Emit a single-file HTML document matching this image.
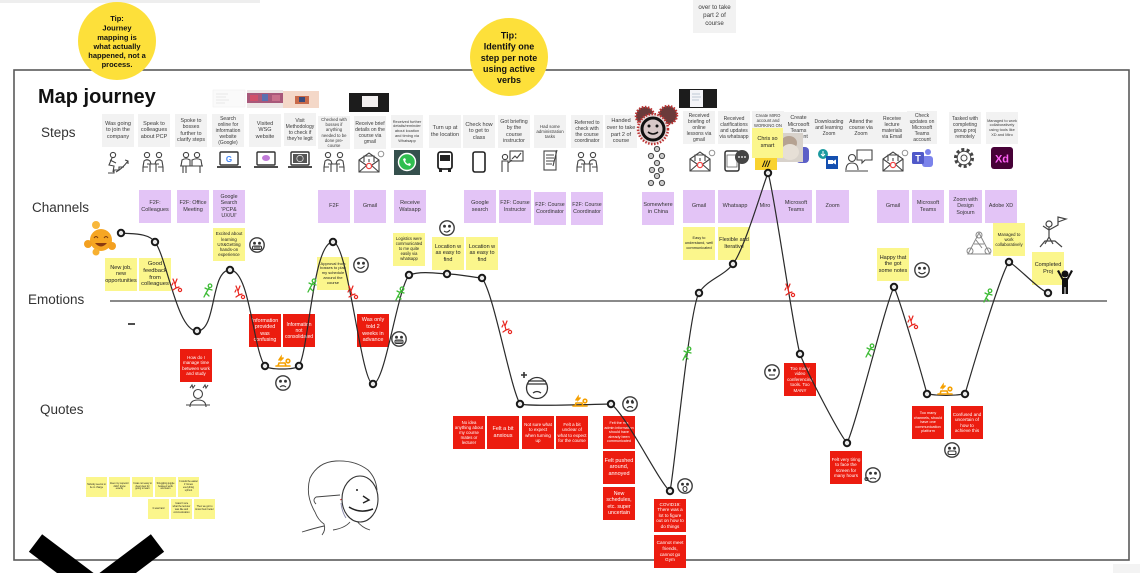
<!DOCTYPE html>
<html><head><meta charset="utf-8">
<style>
html,body{margin:0;padding:0;background:#fff;}
#c{position:relative;width:1140px;height:573px;overflow:hidden;background:#fff;font-family:"Liberation Sans",sans-serif;}
#c svg{position:absolute;left:0;top:0;}
.n{position:absolute;width:32px;height:33px;display:flex;align-items:center;justify-content:center;text-align:center;line-height:1.2;box-sizing:border-box;padding:1px 1px;overflow:hidden;font-size:5.3px;}
.g{background:#f2f2f2;color:#3a3a3a;}
.p{background:#e3c4f6;color:#333;}
.y{background:#fbf68c;color:#222;}
.r{background:#ec1c0f;color:#fff;}
.t{width:21px;height:20px;font-size:2.4px;padding:1px;line-height:1.15;}
</style></head><body><div id="c">

<svg width="1140" height="573" viewBox="0 0 1140 573" style="z-index:0">
  <rect x="0" y="0" width="260" height="3" fill="#eeeeee"/>
  <rect x="14" y="70" width="1115" height="490" fill="none" stroke="#5a5a5a" stroke-width="1.6"/>
  <line x1="110" y1="301" x2="1107" y2="301" stroke="#444" stroke-width="1.2"/>
  <line x1="128" y1="324" x2="135" y2="324" stroke="#222" stroke-width="1.6"/>
  <rect x="1113" y="564" width="27" height="9" fill="#f3f3f3"/>
  <text x="38" y="103" font-family="Liberation Sans" font-weight="bold" font-size="20" fill="#111">Map journey</text>
  <g font-family="Liberation Sans" font-size="13.5" fill="#333">
    <text x="41" y="137">Steps</text>
    <text x="32" y="212">Channels</text>
    <text x="28" y="304">Emotions</text>
    <text x="40" y="414">Quotes</text>
  </g>
  <circle cx="117" cy="41" r="39" fill="#fde03a"/>
  <g font-family="Liberation Sans" font-weight="bold" font-size="7.5" fill="#111" text-anchor="middle">
    <text x="117" y="21">Tip:</text>
    <text x="117" y="30.5">Journey</text>
    <text x="117" y="40">mapping is</text>
    <text x="117" y="49">what actually</text>
    <text x="117" y="58">happened, not a</text>
    <text x="117" y="67">process.</text>
  </g>
  <circle cx="509" cy="57" r="39" fill="#fde03a"/>
  <g font-family="Liberation Sans" font-weight="bold" font-size="9" fill="#111" text-anchor="middle">
    <text x="509" y="38.5">Tip:</text>
    <text x="509" y="49.5">Identify one</text>
    <text x="509" y="61">step per note</text>
    <text x="509" y="72">using active</text>
    <text x="509" y="83">verbs</text>
  </g>
  <rect x="213" y="90" width="32" height="17" fill="#fafafa" stroke="#eee" stroke-width="0.5"/>
  <g stroke="#ddd" stroke-width="0.6"><line x1="216" y1="94" x2="228" y2="94"/><line x1="216" y1="97" x2="226" y2="97"/><line x1="216" y1="100" x2="229" y2="100"/><line x1="216" y1="103" x2="225" y2="103"/></g>
  <rect x="247" y="90" width="36" height="18" fill="#ece6e6"/>
  <rect x="247" y="93" width="36" height="10" fill="#a8587a"/>
  <rect x="250" y="95" width="8" height="6" fill="#d0506a"/><rect x="262" y="94" width="6" height="7" fill="#5a6fb0"/><rect x="272" y="95" width="8" height="6" fill="#c8708c"/>
  <rect x="283" y="91" width="36" height="17" fill="#f4d8c8"/>
  <rect x="295" y="96" width="14" height="8" fill="#c86a4a"/><rect x="299" y="97" width="6" height="5" fill="#3a4a7a"/>
  <rect x="349" y="93" width="40" height="19" fill="#1c1c1c"/>
  <rect x="362" y="96" width="16" height="11" fill="#f2efef"/>
  <rect x="679" y="89" width="38" height="19" fill="#1c1c1c"/>
  <rect x="690" y="90" width="13" height="17" fill="#f4f4f8"/>
  <g stroke="#9ab" stroke-width="0.6"><line x1="692" y1="94" x2="700" y2="94"/><line x1="692" y1="97" x2="701" y2="97"/><line x1="692" y1="100" x2="699" y2="100"/></g>
</svg>

<div class="n g" style="left:693px;top:-9px;width:43px;height:42px;font-size:6.2px;line-height:1.35;">Handed<br>over to take<br>part 2 of<br>course</div>

<div class="n g" style="left:102px;top:114px;font-size:5.5px;">Was going to join the company</div>
<div class="n g" style="left:138px;top:114px;font-size:5.5px;">Speak to colleagues about PCP</div>
<div class="n g" style="left:175px;top:114px;font-size:5.3px;">Spoke to bosses further to clarify steps</div>
<div class="n g" style="left:212px;top:114px;font-size:5px;">Search online for information website (Google)</div>
<div class="n g" style="left:249px;top:114px;font-size:5.5px;">Visited WSG website</div>
<div class="n g" style="left:284px;top:113px;font-size:5px;">Visit Methodology to check if they're legit</div>
<div class="n g" style="left:318px;top:116px;font-size:4.3px;">Checked with bosses if anything needed to be done pre-course</div>
<div class="n g" style="left:354px;top:116px;font-size:5px;">Receive brief details on the course via gmail</div>
<div class="n g" style="left:391px;top:115px;font-size:3.9px;">Received further details/reminder about location and timing via Whatsapp</div>
<div class="n g" style="left:429px;top:115px;font-size:5.5px;">Turn up at the location</div>
<div class="n g" style="left:463px;top:115px;font-size:5.5px;">Check how to get to class</div>
<div class="n g" style="left:498px;top:115px;font-size:5.3px;">Got briefing by the course instructor</div>
<div class="n g" style="left:534px;top:115px;font-size:4.4px;">Had some administration tasks</div>
<div class="n g" style="left:571px;top:115px;font-size:5px;">Referred to check with the course coordinator</div>
<div class="n g" style="left:605px;top:115px;font-size:5.5px;">Handed over to take part 2 of course</div>
<div class="n g" style="left:683px;top:111px;font-size:5px;">Received briefing of online lessons via gmail</div>
<div class="n g" style="left:718px;top:111px;font-size:5px;">Received clarifications and updates via whatsapp</div>
<div class="n g" style="left:752px;top:111px;height:32px;font-size:4.2px;align-items:flex-start;padding-top:2px;">Create MIRO account and WORKING ON</div>
<div class="n g" style="left:784px;top:112px;width:29px;height:32px;font-size:5.4px;">Create Microsoft Teams account</div>
<div class="n g" style="left:813px;top:112px;height:32px;font-size:5px;">Downloading and learning Zoom</div>
<div class="n g" style="left:845px;top:112px;height:32px;font-size:5.2px;">Attend the course via Zoom</div>
<div class="n g" style="left:877px;top:112px;width:30px;height:32px;font-size:5px;">Receive lecture materials via Email</div>
<div class="n g" style="left:907px;top:111px;width:30px;height:33px;font-size:5px;">Check updates on Microsoft Teams account</div>
<div class="n g" style="left:949px;top:112px;height:32px;font-size:5px;">Tasked with completing group proj remotely</div>
<div class="n g" style="left:986px;top:112px;height:32px;font-size:3.9px;">Managed to work collaboratively using tools like XD and Miro</div>

<div class="n p" style="left:139px;top:190px;font-size:5.5px;">F2F: Colleagues</div>
<div class="n p" style="left:177px;top:190px;font-size:5.5px;">F2F: Office Meeting</div>
<div class="n p" style="left:213px;top:190px;font-size:5.3px;">Google Search 'PCP&amp; UX/UI'</div>
<div class="n p" style="left:318px;top:190px;font-size:5.5px;">F2F</div>
<div class="n p" style="left:354px;top:190px;font-size:5.5px;">Gmail</div>
<div class="n p" style="left:394px;top:190px;font-size:5.5px;">Receive Watsapp</div>
<div class="n p" style="left:464px;top:190px;font-size:5.5px;">Google search</div>
<div class="n p" style="left:499px;top:190px;font-size:5.3px;">F2F: Course Instructor</div>
<div class="n p" style="left:534px;top:192px;font-size:5.3px;">F2F: Course Coordinator</div>
<div class="n p" style="left:571px;top:192px;font-size:5.3px;">F2F: Course Coordinator</div>
<div class="n p" style="left:642px;top:192px;font-size:5.5px;">Somewhere in China</div>
<div class="n p" style="left:683px;top:190px;font-size:5.5px;">Gmail</div>
<div class="n p" style="left:718px;top:190px;width:94px;font-size:5.5px;justify-content:flex-start;padding:0;">
  <span style="position:absolute;left:2px;width:30px;text-align:center;">Whatsapp</span>
  <span style="position:absolute;left:34px;width:26px;text-align:center;">Miro</span>
  <span style="position:absolute;left:64px;width:28px;text-align:center;">Microsoft Teams</span>
</div>
<div class="n p" style="left:816px;top:190px;width:33px;font-size:5.5px;">Zoom</div>
<div class="n p" style="left:877px;top:190px;font-size:5.5px;">Gmail</div>
<div class="n p" style="left:912px;top:190px;font-size:5.5px;">Microsoft Teams</div>
<div class="n p" style="left:949px;top:190px;width:33px;font-size:5.3px;">Zoom with Design Sojourn</div>
<div class="n p" style="left:985px;top:190px;font-size:5.3px;">Adobe XD</div>

<div class="n y" style="left:105px;top:258px;font-size:5.5px;">New job, new opportunities</div>
<div class="n y" style="left:139px;top:258px;font-size:5.8px;">Good feedback from colleagues</div>
<div class="n y" style="left:213px;top:228px;font-size:4.4px;">Excited about learning UX&amp;Getting hands-on experience</div>
<div class="n y" style="left:317px;top:257px;font-size:4px;">Approval from bosses to plan my schedule around the course</div>
<div class="n y" style="left:393px;top:233px;font-size:4.1px;">Logistics were communicated to me quite easily via whatsapp</div>
<div class="n y" style="left:432px;top:237px;font-size:5.5px;">Location w as easy to find</div>
<div class="n y" style="left:466px;top:237px;font-size:5.5px;">Location w as easy to find</div>
<div class="n y" style="left:683px;top:227px;font-size:3.9px;">Easy to understand, well communicated</div>
<div class="n y" style="left:718px;top:227px;font-size:5.5px;">Flexible and Iterative</div>
<div class="n y" style="left:877px;top:248px;font-size:5.5px;">Happy that the got some notes</div>
<div class="n y" style="left:993px;top:223px;font-size:4.3px;">Managed to work collaboratively</div>
<div class="n y" style="left:1032px;top:252px;font-size:5.5px;">Completed Proj</div>

<div class="n r" style="left:180px;top:349px;font-size:4.5px;">How do I manage time between work and study</div>
<div class="n r" style="left:249px;top:314px;font-size:5.3px;">Information provided was confusing</div>
<div class="n r" style="left:283px;top:314px;font-size:5px;">Information not consolidated</div>
<div class="n r" style="left:357px;top:314px;font-size:5.5px;">Was only told 2 weeks in advance</div>
<div class="n r" style="left:453px;top:416px;font-size:4.3px;">No idea anything about my course mates or lecturer</div>
<div class="n r" style="left:487px;top:416px;font-size:5.5px;">Felt a bit anxious</div>
<div class="n r" style="left:522px;top:416px;font-size:4.5px;">Not sure what to expect when turning up</div>
<div class="n r" style="left:556px;top:416px;font-size:4.5px;">Felt a bit unclear of what to expect for the course</div>
<div class="n r" style="left:603px;top:416px;font-size:3.7px;">Felt the mis admin information should have already been communicated</div>
<div class="n r" style="left:603px;top:451px;font-size:5.5px;">Felt pushed around, annoyed</div>
<div class="n r" style="left:603px;top:487px;font-size:5.3px;">New schedules, etc. super uncertain</div>
<div class="n r" style="left:654px;top:499px;font-size:4.6px;">COVID19: There was a lot to figure out on how to do things</div>
<div class="n r" style="left:654px;top:535px;font-size:4.7px;">Cannot meet friends, cannot go Gym</div>
<div class="n r" style="left:784px;top:363px;font-size:4.5px;">Too many video conferencing tools. Too MANY</div>
<div class="n r" style="left:830px;top:451px;font-size:4.6px;">Felt very tiring to face the screen for many hours</div>
<div class="n r" style="left:912px;top:406px;font-size:3.8px;">Too many channels, should have one communication platform</div>
<div class="n r" style="left:951px;top:406px;font-size:4.6px;">Confused and uncertain of how to achieve this</div>

<div class="n y t" style="left:86px;top:477px;">Nobody seems to be in charge</div>
<div class="n y t" style="left:109px;top:477px;">Even my superior didn't know exactly</div>
<div class="n y t" style="left:132px;top:477px;">It was not easy to clear view for going to learn</div>
<div class="n y t" style="left:155px;top:477px;">Struggling juggle between work and learn</div>
<div class="n y t" style="left:178px;top:477px;">It would be easier if I knew everything upfront</div>
<div class="n y t" style="left:148px;top:499px;">It was hard</div>
<div class="n y t" style="left:171px;top:499px;">I wasn't sure what the lecturer was like and communication</div>
<div class="n y t" style="left:194px;top:499px;">Then we got to know them better</div>

<svg width="1140" height="573" viewBox="0 0 1140 573" style="z-index:2">
  <defs>
    <g id="pt" fill="none" stroke="#444" stroke-width="1.1">
      <circle cx="6" cy="3" r="2.6"/><circle cx="18" cy="3" r="2.6"/>
      <path d="M2,15 L3,9 Q6,6.5 9,9 L10,12"/><path d="M22,15 L21,9 Q18,6.5 15,9 L14,12"/>
      <path d="M6,12 L18,12 M9,12 L9,20 M15,12 L15,20 M2,15 L2,20 M22,15 L22,20 M2,15 L7,15 M22,15 L17,15"/>
    </g>
    <g id="lp">
      <rect x="3" y="0" width="18" height="13" rx="1" fill="#fff" stroke="#333" stroke-width="1.4"/>
      <path d="M0,15 L24,15" stroke="#333" stroke-width="1.8"/>
    </g>
    <g id="ev" fill="none" stroke="#444" stroke-width="1.1">
      <path d="M2,9 L12,2 L22,9 L22,21 L2,21 Z"/>
      <path d="M2,21 L10,14 M22,21 L14,14 M2,9 L9,14 M22,9 L15,14"/>
      <path d="M7,11 L7,5 L17,5 L17,11"/>
      <circle cx="12" cy="15" r="2.6" stroke="#e44" stroke-width="1.3"/>
      <path d="M12,8 l0,3" stroke="#444"/>
      <circle cx="24" cy="3" r="2.8" stroke="#888" stroke-width="0.9"/>
    </g>
    <g id="nd"><circle r="3.2" fill="#e8e8e8" stroke="#1a1a1a" stroke-width="2"/></g>
    <g id="fr" fill="none" stroke="#e8251e" stroke-width="1.2" stroke-linecap="round">
      <path d="M1,0 L3,5 L5,0 M3,5 L4,9 M4,9 L1,11 M4,9 L7,8 M1,4 L0,6"/>
      <circle cx="8" cy="11" r="1.6"/>
    </g>
    <g id="fg" fill="none" stroke="#3dbb35" stroke-width="1.3" stroke-linecap="round">
      <circle cx="7" cy="1.8" r="1.8"/>
      <path d="M6,4 L3,9 M5.5,5 L9,6 M5,5.5 L2,4 M3,9 L6,12 M3,9 L1,13"/>
    </g>
    <g id="fo" fill="none" stroke="#f5a000" stroke-width="1.6" stroke-linecap="round">
      <path d="M0,9 L14,9 M2,9 L3,6 L9,6 L10,9"/>
      <circle cx="12" cy="4" r="1.8"/>
      <path d="M3,3 L5,0 L5,3 L7,1"/>
    </g>
    <g id="fb">
      <circle r="7.2" fill="#fff" stroke="#3d3d3d" stroke-width="1.4"/>
      <circle cx="-2.5" cy="-1.8" r="0.9" fill="#333"/><circle cx="2.5" cy="-1.8" r="0.9" fill="#333"/>
    </g>
  </defs>

  <g fill="none" stroke="#444" stroke-width="1.1">
    <circle cx="113" cy="155" r="2.6"/>
    <path d="M112,158 L109,165 L114,166 L113,172 M110,160 L116,163"/>
    <path d="M108,173 L114,173 L114,170 L119,170 L119,167 L124,167"/>
    <path d="M116,172 Q122,169 128,161 M125,160 L128,161 L128,164"/>
  </g>
  <use href="#pt" x="141" y="152"/>
  <g fill="none" stroke="#444" stroke-width="1.1">
    <circle cx="186" cy="155" r="2.6"/><circle cx="197" cy="155" r="2.6"/>
    <path d="M181,166 L182,160 Q186,157.5 190,160 L190,166 M192,166 L192,160 Q197,157.5 201,160 L202,166"/>
    <path d="M180,166 L203,166 M183,166 L183,173 M200,166 L200,173 M186,166 L186,173"/>
  </g>
  <use href="#lp" x="217" y="152"/>
  <text x="229" y="162" font-family="Liberation Sans" font-weight="bold" font-size="8" fill="#4285f4" text-anchor="middle">G</text>
  <use href="#lp" x="254" y="152"/>
  <ellipse cx="266" cy="158" rx="4" ry="3" fill="#c07ad8"/>
  <use href="#lp" x="288" y="152"/>
  <rect x="293" y="154" width="14" height="9" fill="#555"/>
  <circle cx="300" cy="158.5" r="3.2" fill="none" stroke="#ddd" stroke-width="0.8"/>
  <use href="#pt" x="322" y="152"/>
  <use href="#ev" x="357" y="151"/>
  <rect x="394" y="150" width="26" height="25" fill="#35504d"/>
  <circle cx="407" cy="162" r="8.5" fill="#2fbe4f" stroke="#fff" stroke-width="1.4"/>
  <path d="M403,159 Q404,165 410,166 L411,164 L409,163 L408,164 Q406,163 405,161 L406,160 L405,158 Z" fill="#fff"/>
  <rect x="438" y="152" width="14" height="17" rx="2.5" fill="none" stroke="#222" stroke-width="1.8"/>
  <rect x="440" y="155" width="10" height="6" fill="#222"/>
  <rect x="439" y="168" width="3" height="4" fill="#222"/><rect x="448" y="168" width="3" height="4" fill="#222"/>
  <rect x="473" y="152" width="12" height="20" rx="2" fill="none" stroke="#222" stroke-width="1.6"/>
  <g fill="none" stroke="#444" stroke-width="1.1">
    <circle cx="505" cy="157" r="2.6"/>
    <path d="M502,172 L502,161 L508,161 L508,172 M508,163 L512,160"/>
    <rect x="510" y="151" width="13" height="10"/>
    <path d="M512,159 L515,156 L517,158 L521,153"/>
    <rect x="544" y="151" width="12" height="19"/>
    <path d="M546,155 L554,155 M546,158 L554,158 M546,161 L554,161 M546,164 L552,164 M557,150 L553,166"/>
  </g>
  <use href="#pt" x="575" y="152"/>
  <circle cx="645" cy="116" r="9" fill="#6a3a3a" stroke="#b33" stroke-width="2.5" stroke-dasharray="1.5 1.5"/>
  <circle cx="668" cy="115" r="9" fill="#6a3a3a" stroke="#b33" stroke-width="2.5" stroke-dasharray="1.5 1.5"/>
  <circle cx="653" cy="129" r="15" fill="#e8d8d8" stroke="#b33" stroke-width="2.5" stroke-dasharray="1.5 1.5"/>
  <circle cx="653" cy="129" r="11" fill="#d8c8c8" stroke="#111" stroke-width="3"/>
  <circle cx="649" cy="126" r="1.5" fill="#111"/><circle cx="657" cy="126" r="1.5" fill="#111"/>
  <path d="M648,132 Q653,136 658,132" fill="none" stroke="#111" stroke-width="1.5"/>
  <g fill="#ccc" stroke="#444" stroke-width="1">
    <circle cx="657" cy="149" r="2.6"/><circle cx="651" cy="156" r="2.6"/><circle cx="662" cy="156" r="2.6"/>
    <circle cx="657" cy="163" r="2.6"/><circle cx="652" cy="170" r="2.6"/><circle cx="661" cy="170" r="2.6"/>
    <circle cx="657" cy="176" r="2.6"/><circle cx="651" cy="183" r="2.6"/><circle cx="662" cy="183" r="2.6"/>
  </g>
  <use href="#ev" x="688" y="150"/>
  <rect x="725" y="151" width="14" height="20" rx="2" fill="#fff" stroke="#333" stroke-width="1.5"/>
  <rect x="727" y="155" width="10" height="12" fill="none" stroke="#666" stroke-width="0.8"/>
  <circle cx="742" cy="157" r="7" fill="#444"/>
  <circle cx="739" cy="157" r="0.9" fill="#fff"/><circle cx="742" cy="157" r="0.9" fill="#fff"/><circle cx="745" cy="157" r="0.9" fill="#fff"/>
  <rect x="755" y="157" width="22" height="13" fill="#f9d22f"/>
  <text x="766" y="167" font-family="Liberation Sans" font-weight="bold" font-style="italic" font-size="9" fill="#111" text-anchor="middle">///</text>
  <rect x="796" y="147" width="13" height="16" rx="4" fill="#5b5fc7"/>
  <circle cx="823" cy="154" r="5" fill="#1b9aa0"/>
  <path d="M823,151 L823,156 M821,154 L823,156 L825,154" stroke="#fff" stroke-width="1" fill="none"/>
  <rect x="826" y="156" width="12" height="13" fill="#1550b0"/>
  <rect x="828" y="160" width="5" height="4" fill="#fff"/><path d="M833,161 L836,159.5 L836,164.5 L833,163 Z" fill="#fff"/>
  <g fill="none" stroke="#444" stroke-width="1.1">
    <circle cx="852" cy="158" r="3.5"/>
    <path d="M846,170 Q846,163 852,163 Q858,163 858,170 M845,171 L868,171"/>
    <path d="M857,150 L872,150 L872,160 L865,160 L862,163 L862,160 L857,160 Z"/>
  </g>
  <use href="#ev" x="881" y="150"/>
  <circle cx="928" cy="152" r="3" fill="#7b83eb"/>
  <rect x="922" y="156" width="11" height="11" rx="3" fill="#7b83eb"/>
  <rect x="912" y="152" width="12" height="12" rx="1.5" fill="#5059c9"/>
  <text x="918" y="161.5" font-family="Liberation Sans" font-weight="bold" font-size="9" fill="#fff" text-anchor="middle">T</text>
  <circle cx="964" cy="158" r="8.5" fill="none" stroke="#444" stroke-width="3" stroke-dasharray="3 2.3"/>
  <circle cx="964" cy="158" r="6.8" fill="#fff" stroke="#444" stroke-width="1"/>
  <circle cx="964" cy="158" r="3" fill="none" stroke="#444" stroke-width="1"/>
  <rect x="991" y="147" width="22" height="22" rx="3" fill="#470137"/>
  <text x="1002" y="162.5" font-family="Liberation Sans" font-weight="bold" font-size="11" fill="#ff61f6" text-anchor="middle">Xd</text>

  <rect x="777" y="133" width="26" height="29" fill="#d8d2cb"/>
  <ellipse cx="789" cy="143" rx="8" ry="7" fill="#b5a292"/>
  <ellipse cx="790" cy="152" rx="9" ry="8" fill="#e6dfd6"/>
</svg>

<div class="n y" style="left:752px;top:128px;width:31px;height:30px;font-size:5.5px;align-items:flex-start;padding-top:8px;z-index:3;">Chris so smart</div>

<svg width="1140" height="573" viewBox="0 0 1140 573" style="z-index:4">
  <path d="M121,233 C132.7,234.2 148,232.6 155,242 C167,258 177,331 197,331 C217,331 210,270 230,270 C250,270 253,350 265,366 C270,370 294,370 299,366 C309,348.6 313,242 333,242 C348,242 361,384 373,384 C385,384 397,291 409,275 C420,271 435,273 447,274 C459,274 470,277 482,278 C494,294 510,386.6 520,404 C530,407 600,404 611,404 C627,416 660,484 670,491 C674,475 689,310 699,293 C706.5,280 724,276 733,264 C745,248 763,185 768,173 C773,185 794,335 800,354 C806,370 838,432 847,443 C856,425 885,305 894,287 C900,300 922,375 927,394 C940,396 952,396 965,394 C972,370 1000,275 1009,262 C1016,265 1038,289 1048,293" fill="none" stroke="#2a2a2a" stroke-width="1.2"/>
  <g>
    <use href="#nd" x="121" y="233"/><use href="#nd" x="155" y="242"/><use href="#nd" x="197" y="331"/>
    <use href="#nd" x="230" y="270"/><use href="#nd" x="265" y="366"/><use href="#nd" x="299" y="366"/>
    <use href="#nd" x="333" y="242"/><use href="#nd" x="373" y="384"/><use href="#nd" x="409" y="275"/>
    <use href="#nd" x="447" y="274"/><use href="#nd" x="482" y="278"/><use href="#nd" x="520" y="404"/>
    <use href="#nd" x="611" y="404"/><use href="#nd" x="670" y="491"/><use href="#nd" x="699" y="293"/>
    <use href="#nd" x="733" y="264"/><use href="#nd" x="768" y="173"/><use href="#nd" x="800" y="354"/>
    <use href="#nd" x="847" y="443"/><use href="#nd" x="894" y="287"/><use href="#nd" x="927" y="394"/>
    <use href="#nd" x="965" y="394"/><use href="#nd" x="1009" y="262"/><use href="#nd" x="1048" y="293"/>
  </g>
  <use href="#fr" x="172" y="279"/><use href="#fr" x="235" y="286"/><use href="#fr" x="348" y="286"/>
  <use href="#fr" x="502" y="321"/><use href="#fr" x="785" y="284"/><use href="#fr" x="908" y="316"/>
  <use href="#fg" x="203" y="284"/><use href="#fg" x="307" y="279"/><use href="#fg" x="395" y="287"/>
  <use href="#fg" x="682" y="347"/><use href="#fg" x="865" y="344"/><use href="#fg" x="983" y="289"/>
  <use href="#fo" x="276" y="357"/><use href="#fo" x="573" y="397"/><use href="#fo" x="938" y="385"/>

  <g fill="none" stroke="#333" stroke-width="1.1">
    <use href="#fb" x="257" y="245"/><rect x="252.5" y="246" width="9" height="3.5" rx="1.5" fill="#fff"/><path d="M255,246 L255,249.5 M257,246 L257,249.5 M259,246 L259,249.5"/>
    <use href="#fb" x="361" y="265"/><path d="M357.5,267 Q361,270 364.5,266"/>
    <use href="#fb" x="399" y="339"/><rect x="395" y="340" width="8" height="3.5" rx="1.5" fill="#fff"/><path d="M397,340 L397,343.5 M399,340 L399,343.5 M401,340 L401,343.5"/>
    <use href="#fb" x="283" y="383"/><path d="M280,387 Q283,384.5 286,387"/>
    <use href="#fb" x="447" y="228"/><path d="M444,231 Q447,233.5 450,230"/>
    <use href="#fb" x="772" y="372"/><path d="M769,375 L775,375"/>
    <use href="#fb" x="630" y="404"/><path d="M627,408 Q630,405 633,408 M627,400 L629,401.5 M633,400 L631,401.5"/>
    <use href="#fb" x="685" y="486"/><ellipse cx="685" cy="489" rx="2" ry="2.5"/>
    <use href="#fb" x="873" y="475"/><path d="M870,479 Q873,477 876,479"/><circle cx="866.5" cy="479" r="1.5"/>
    <use href="#fb" x="952" y="450"/><rect x="948" y="451" width="8" height="3.5" rx="1.5" fill="#fff"/>
    <use href="#fb" x="922" y="270"/><path d="M918.5,272 Q922,275.5 925.5,272"/>
  </g>
  <g fill="none" stroke="#333" stroke-width="1.3">
    <circle cx="537" cy="388" r="10.5" fill="#fff"/>
    <path d="M527,384 L547,384 M528,381 L546,381"/>
    <path d="M533,393 Q537,390 541,393"/>
    <path d="M524,372 l0,6 M521,375 l6,0" stroke-width="1.6"/>
  </g>
  <circle cx="101" cy="240" r="11" fill="#f6a623"/>
  <circle cx="96" cy="225" r="4" fill="#f8b73a"/>
  <circle cx="88" cy="244" r="4" fill="#f3a020"/>
  <circle cx="112" cy="246" r="4" fill="#f3a020"/>
  <circle cx="96" cy="252" r="3.5" fill="#f7b030"/>
  <path d="M95,243 Q101,250 107,243 Z" fill="#8a3a10"/>
  <path d="M94,238 Q96,235 98,238 M104,238 Q106,235 108,238" stroke="#7a3a10" stroke-width="1" fill="none"/>
  <g fill="none" stroke="#444" stroke-width="1.1">
    <circle cx="198" cy="394" r="4.5"/>
    <path d="M190,407 Q190,400 198,400 Q206,400 206,407 M186,405 L210,405"/>
    <path d="M190,388 l2,-3 l1,3 l2,-3 M203,388 l2,-3 l1,3 l2,-3"/>
  </g>
  <g fill="none" stroke="#888" stroke-width="1">
    <path d="M979,233 L968,254 L990,254 Z"/>
    <circle cx="979" cy="235" r="3"/><circle cx="970" cy="251" r="3"/><circle cx="988" cy="251" r="3"/>
    <path d="M974,244 L984,244 M976,240 L982,248"/>
  </g>
  <g fill="none" stroke="#444" stroke-width="1.2">
    <circle cx="1049" cy="224" r="3"/>
    <path d="M1049,227 L1049,237 M1049,230 L1043,226 M1049,230 L1058,225 L1058,217 L1066,219 L1058,222 M1049,237 L1045,244 M1049,237 L1053,244 M1040,247 L1045,241 L1055,241 L1062,247"/>
  </g>
  <g fill="#111">
    <circle cx="1065" cy="274" r="3.5"/>
    <rect x="1062" y="278" width="6" height="9"/>
    <rect x="1062" y="286" width="2.5" height="8"/><rect x="1065.5" y="286" width="2.5" height="8"/>
    <path d="M1062,280 L1057,271 L1059,270 L1063,278 Z M1068,280 L1073,271 L1071,270 L1067,278 Z"/>
  </g>
  <g fill="none" stroke="#444" stroke-width="0.9">
    <path d="M315,512 Q305,495 310,478 Q318,462 336,461 Q355,460 368,470 Q376,478 377,490"/>
    <path d="M315,512 Q318,520 324,524 Q326,530 322,535 M302,532 Q315,528 324,526"/>
    <path d="M333,530 Q345,528 350,522 M370,530 Q362,528 356,520"/>
    <path d="M316,497 Q312,500 316,504 M316,497 L340,495"/>
    <path d="M340,500 L344,498" stroke="#c22"/>
    <path d="M341,503 Q342,512 346,518" stroke="#88a"/>
  </g>
  <ellipse cx="360" cy="499" rx="18" ry="23" fill="#fff" stroke="#333" stroke-width="1.1"/>
  <circle cx="357" cy="490" r="1" fill="#222"/>
  <path d="M363,496 L369,500 L363,503" fill="none" stroke="#222" stroke-width="1.4"/>
  <path d="M349,507 Q360,514 373,509" fill="none" stroke="#222" stroke-width="1.5"/>
  <polyline points="35.5,543 96.5,589 157.5,543" fill="none" stroke="#000" stroke-width="22" stroke-linejoin="miter"/>
</svg>

</div></body></html>
